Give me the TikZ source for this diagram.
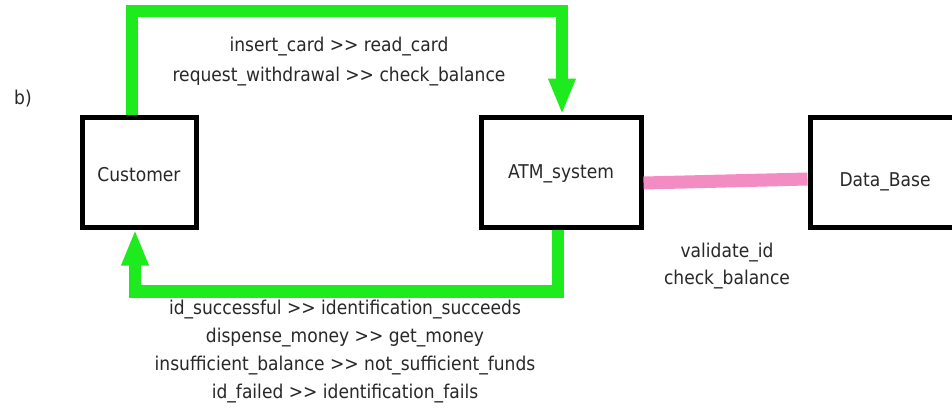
\documentclass[tikz,border=0pt]{standalone}
\usepackage{fontspec}
\setmainfont{DejaVu Sans}[FakeStretch=0.9]
\usetikzlibrary{arrows.meta}
\definecolor{flowgreen}{RGB}{30,235,30}
\definecolor{linkpink}{RGB}{244,140,196}
\definecolor{txt}{RGB}{40,40,40}
\newcommand{\dgt}{>{}>}
\begin{document}
\begin{tikzpicture}[x=1pt,y=-1pt,
  box/.style={draw=black,line width=5pt,fill=white,inner sep=0pt,text=txt,font=\fontsize{19}{22}\selectfont},
  boxtext/.style={text=txt,inner sep=0pt,font=\fontsize{19}{22}\selectfont},
  flow/.style={draw=flowgreen,line width=12.5pt,-{Triangle[width=25pt,length=36pt]}},
  link/.style={draw=linkpink,line width=13pt},
  lbl/.style={text=txt,align=center,inner sep=0pt,font=\fontsize{19}{28}\selectfont}]
\useasboundingbox[fill=white] (0,0) rectangle (952,407);
\node[box,minimum width=114pt,minimum height=110pt] (cust) at (139,172) {};
\node[box,minimum width=160pt,minimum height=110pt] (atm) at (561,172) {};
\node[box,minimum width=150pt,minimum height=110pt] (db) at (885,172) {};
\node[boxtext] (custt) at (139,175) {Customer};
\node[boxtext] (atmt) at (561,174) {ATM\_system};
\node[boxtext] (dbt) at (885,182) {Data\_Base};
\draw[flow] ([xshift=-7pt]cust.north) -- ++(0,-103.5) -| ([xshift=1pt]atm.north);
\draw[flow] ([xshift=-3pt]atm.south) -- ++(0,62) -| ([xshift=-4pt]cust.south);
\draw[link] ([yshift=-11pt]atm.east) -- ([yshift=-7pt]db.west);
\node[lbl,font=\fontsize{19}{30}\selectfont] (top) at (339,62) {insert\_card \dgt{} read\_card\\request\_withdrawal \dgt{} check\_balance};
\node[lbl] (bot) at (345,352) {id\_successful \dgt{} identification\_succeeds\\dispense\_money \dgt{} get\_money\\insufficient\_balance \dgt{} not\_sufficient\_funds\\id\_failed \dgt{} identification\_fails};
\node[lbl,font=\fontsize{19}{27}\selectfont] (val) at (727,266) {validate\_id\\check\_balance};
\node[lbl] (b) at (23,99) {b)};
\end{tikzpicture}
\end{document}
